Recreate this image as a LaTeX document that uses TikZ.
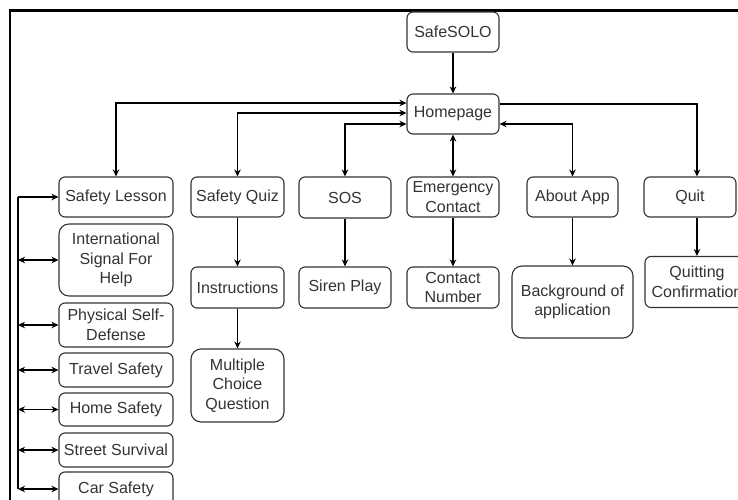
\documentclass[tikz,border=0pt]{standalone}
\usepackage{fontspec}
\setmainfont{Liberation Sans}
\usetikzlibrary{arrows.meta}

\definecolor{ink}{HTML}{333333}

\begin{document}
\begin{tikzpicture}[
    x=1pt, y=-1pt,
    box/.style={draw=ink, line width=1.1pt, rounded corners=6pt, inner sep=0pt,
                align=center, text=ink, font=\fontsize{16}{19.5}\selectfont},
    tallbox/.style={box, rounded corners=10pt},
    link/.style={draw=black, line width=1.2pt,
                 -{Stealth[length=7pt,width=6.5pt]}},
    twoway/.style={link, {Stealth[length=7pt,width=6.5pt]}-{Stealth[length=7pt,width=6.5pt]}},
  ]
  \clip (0,0) rectangle (738,500);
  \useasboundingbox (0,0) rectangle (738,500);

  % outer frame
  \draw[line width=2.4pt] (10,500) -- (10,10.5) -- (738,10.5);

  % top levels
  \node[box, minimum width=92pt, minimum height=40pt] (safe) at (453,32) {SafeSOLO};
  \node[box, minimum width=92pt, minimum height=40pt] (home) at (453,114) {Homepage};

  % main menu
  \node[box, minimum width=114pt, minimum height=40pt] (lesson) at (116,197) {Safety Lesson};
  \node[box, minimum width=93pt, minimum height=40pt] (quiz) at (237.5,197) {Safety Quiz};
  \node[box, minimum width=92pt, minimum height=41pt] (sos) at (345,197.5) {SOS};
  \node[box, minimum width=92pt, minimum height=40pt] (emer) at (453,197) {Emergency\\Contact};
  \node[box, minimum width=91pt, minimum height=40pt] (about) at (572.5,197) {About App};
  \node[box, minimum width=92pt, minimum height=40pt] (quit) at (690,197) {Quit};

  % sub pages
  \node[box, minimum width=93pt, minimum height=41pt] (instr) at (237.5,287.5) {Instructions};
  \node[tallbox, minimum width=93pt, minimum height=73pt] (mcq) at (237.5,385.5) {Multiple\\Choice\\Question};
  \node[box, minimum width=92pt, minimum height=41pt] (siren) at (345,287.5) {Siren Play};
  \node[box, minimum width=92pt, minimum height=41pt] (contact) at (453,287.5) {Contact\\Number};
  \node[tallbox, minimum width=121pt, minimum height=72pt] (bg) at (572.5,302) {Background of\\application};
  \node[box, minimum width=104pt, minimum height=51pt] (conf) at (697,282) {Quitting\\Confirmation};

  % lesson topics
  \node[tallbox, minimum width=114pt, minimum height=72pt] (intl) at (116,260) {International\\Signal For\\Help};
  \node[box, minimum width=114pt, minimum height=44pt] (phys) at (116,325) {Physical Self-\\Defense};
  \node[box, minimum width=114pt, minimum height=34pt] (travel) at (116,370) {Travel Safety};
  \node[box, minimum width=114pt, minimum height=33pt] (homesafe) at (116,409.5) {Home Safety};
  \node[box, minimum width=114pt, minimum height=34pt] (street) at (116,450) {Street Survival};
  \node[box, minimum width=114pt, minimum height=34pt] (car) at (116,489) {Car Safety};

  % spine feeding the lesson topics
  \coordinate (spine) at (18,197);
  \coordinate (spineend) at (18,489);

  % connectors
  \draw[link] (safe) -- (home);
  \draw[twoway] ([yshift=11pt]home.west) -| (lesson.north);
  \draw[twoway] ([yshift=1pt]home.west) -| (quiz.north);
  \draw[twoway] ([yshift=-10pt]home.west) -| (sos.north);
  \draw[twoway] (home.south) -- (emer.north);
  \draw[twoway] ([yshift=-10pt]home.east) -| (about.north);
  \draw[link] ([yshift=10pt]home.east) -| (conf.north |- quit.north);

  \draw[link] (quiz) -- (instr);
  \draw[link] (instr) -- (mcq);
  \draw[link] (sos) -- (siren);
  \draw[link] (emer) -- (contact);
  \draw[link] (about) -- (bg);
  \draw[link] (conf.north |- quit.south) -- (conf.north);

  \draw[line width=1.2pt] (spine) -- (spineend);
  \draw[link] (spine) -- (lesson.west);
  \foreach \n in {intl,phys,travel,homesafe,street,car}
    \draw[twoway] (spine |- \n.west) -- (\n.west);
\end{tikzpicture}
\end{document}
